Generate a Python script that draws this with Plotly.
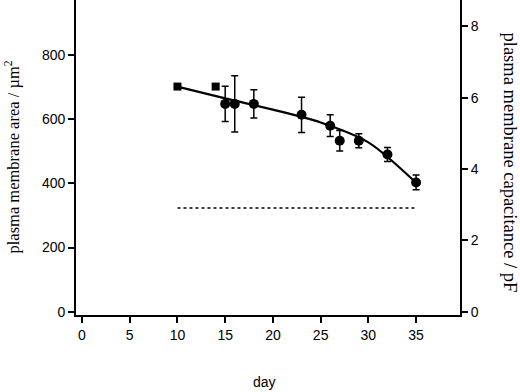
import plotly.graph_objects as go

# Data
square_days = [10, 14]
square_area = [702, 702]

circle_days = [15, 16, 18, 23, 26, 27, 29, 32, 35]
circle_area = [648, 648, 648, 614, 580, 533, 533, 490, 403]
circle_err = [55, 88, 44, 55, 34, 32, 22, 22, 23]

fit_days = [10, 15, 20, 25, 30, 35]
fit_area = [702, 665, 630, 590, 528, 402]

ref_days = [10, 35]
ref_capacitance = [2.91, 2.91]   # dotted line, in pF (right axis)

x_ticks = [0, 5, 10, 15, 20, 25, 30, 35]
left_ticks = [0, 200, 400, 600, 800]
right_ticks = [0, 2, 4, 6, 8]

SANS = "Liberation Sans, Arial, sans-serif"
SERIF = "Liberation Serif, Times New Roman, serif"

fig = go.Figure()

fig.add_trace(go.Scatter(
    x=ref_days, y=ref_capacitance, mode="lines", yaxis="y2",
    line=dict(color="black", width=1.6, dash="dot"),
    showlegend=False, hoverinfo="skip"))

fig.add_trace(go.Scatter(
    x=fit_days, y=fit_area, mode="lines",
    line=dict(color="black", width=2.2, shape="spline", smoothing=0.8),
    showlegend=False))

fig.add_trace(go.Scatter(
    x=circle_days, y=circle_area, mode="markers",
    marker=dict(symbol="circle", size=10, color="black"),
    error_y=dict(type="data", array=circle_err, visible=True,
                 color="black", thickness=1.5, width=3.5),
    showlegend=False))

fig.add_trace(go.Scatter(
    x=square_days, y=square_area, mode="markers",
    marker=dict(symbol="square", size=8, color="black"),
    showlegend=False))

axis_common = dict(
    showgrid=False, zeroline=False, showline=True, linecolor="black",
    linewidth=1.8, ticks="outside", ticklen=6, tickwidth=1.5,
    tickcolor="black", tickfont=dict(family=SANS, size=14, color="black"))

fig.update_layout(
    width=520, height=392,
    margin=dict(l=76, r=60, t=0, b=77),
    paper_bgcolor="white", plot_bgcolor="white",
    xaxis=dict(range=[-0.63, 39.6], tickvals=x_ticks, **axis_common),
    yaxis=dict(range=[-10.5, 972], tickvals=left_ticks, **axis_common),
    yaxis2=dict(range=[-0.09, 8.74], tickvals=right_ticks, overlaying="y",
                side="right", anchor="x", **axis_common),
    annotations=[
        dict(text="plasma membrane area / µm<sup>2</sup>", xref="paper", yref="paper",
             x=0, y=0.5, xanchor="center", yanchor="middle", xshift=-63,
             textangle=-90, showarrow=False,
             font=dict(family=SERIF, size=16.5, color="black")),
        dict(text="plasma membrane capacitance / pF", xref="paper", yref="paper",
             x=1, y=0.5, xanchor="center", yanchor="middle", xshift=50, yshift=-5,
             textangle=90, showarrow=False,
             font=dict(family=SERIF, size=18.5, color="black")),
        dict(text="day", xref="paper", yref="paper",
             x=0.49, y=0, xanchor="center", yanchor="middle", yshift=-66.5,
             showarrow=False,
             font=dict(family=SANS, size=14, color="black")),
    ],
)

fig.write_html("out.html", config={"displayModeBar": False},
               post_script="document.body.style.margin='0';")
